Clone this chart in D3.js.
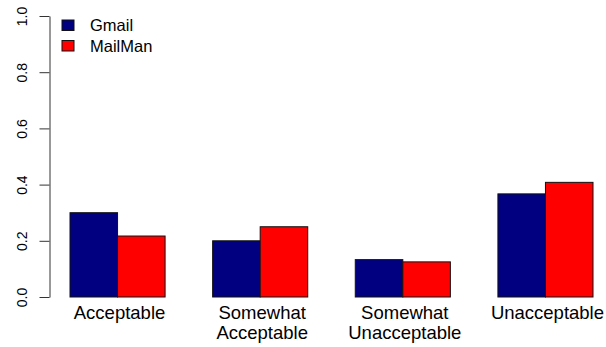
<!DOCTYPE html>
<html>
<head>
<meta charset="utf-8">
<script src="https://cdn.jsdelivr.net/npm/d3@7"></script>
<style>
  body { margin: 0; background: #fff; }
  text { font-family: "Liberation Sans", Arial, sans-serif; fill: #000; }
</style>
</head>
<body>
<svg id="chart"></svg>
<script>
// data
const categories = ['Acceptable', 'Somewhat\nAcceptable', 'Somewhat\nUnacceptable', 'Unacceptable'];
const seriesNames = ['Gmail', 'MailMan'];
const gmail = [0.300, 0.200, 0.133, 0.367];
const mailman = [0.217, 0.250, 0.125, 0.408];
const yTicks = [0, 0.2, 0.4, 0.6, 0.8, 1.0];
const colors = ['#000080', '#ff0000'];

const width = 606, height = 347;
const svg = d3.select('#chart').attr('width', width).attr('height', height);

// scales
const x0 = d3.scaleBand()
    .domain(categories)
    .range([70, 593])
    .paddingInner(1 / 3)
    .paddingOuter(0);

const x1 = d3.scaleBand()
    .domain(seriesNames)
    .range([0, x0.bandwidth()]);

const y = d3.scaleLinear()
    .domain([0, 1])
    .range([297, 16]);

const colorScale = d3.scaleOrdinal().domain(seriesNames).range(colors);

const rows = categories.map((c, i) => ({
  cat: c,
  vals: [{s: 'Gmail', v: gmail[i]}, {s: 'MailMan', v: mailman[i]}]
}));

// bars
const groups = svg.append('g').selectAll('g')
    .data(rows)
    .join('g')
    .attr('transform', d => `translate(${x0(d.cat)},0)`);

groups.selectAll('rect')
    .data(d => d.vals)
    .join('rect')
    .attr('x', d => x1(d.s))
    .attr('y', d => y(d.v))
    .attr('width', x1.bandwidth())
    .attr('height', d => y(0) - y(d.v))
    .attr('fill', d => colorScale(d.s))
    .attr('stroke', '#111')
    .attr('stroke-width', 1);

// y axis
const yAxis = d3.axisLeft(y)
    .tickValues(yTicks)
    .tickFormat(d3.format('.1f'))
    .tickSize(10)
    .tickSizeOuter(0);

const yAxisG = svg.append('g')
    .attr('transform', 'translate(49.5,0)')
    .call(yAxis);

yAxisG.select('.domain').attr('stroke', '#333');
yAxisG.selectAll('.tick line').attr('stroke', '#333');
yAxisG.selectAll('.tick text')
    .attr('transform', 'rotate(-90)')
    .attr('x', 0)
    .attr('y', -23)
    .attr('dy', 0)
    .style('text-anchor', 'middle')
    .style('font-size', '14px')
    .style('font-family', '"Liberation Sans", Arial, sans-serif')
    .style('fill', '#000');

// category labels (multi-line)
const labels = svg.append('g').selectAll('text')
    .data(categories)
    .join('text')
    .attr('x', d => x0(d) + x0.bandwidth() / 2 + 2)
    .attr('y', 319)
    .style('text-anchor', 'middle')
    .style('font-size', '18.5px');

labels.selectAll('tspan')
    .data(d => d.split('\n'))
    .join('tspan')
    .attr('x', function() { return this.parentNode.getAttribute('x'); })
    .attr('dy', (d, i) => i === 0 ? 0 : 20)
    .text(d => d);

// legend
const legend = svg.append('g').selectAll('g')
    .data(seriesNames)
    .join('g')
    .attr('transform', (d, i) => `translate(62,${20 + i * 20.5})`);

legend.append('rect')
    .attr('width', 12)
    .attr('height', 10.5)
    .attr('fill', d => colorScale(d))
    .attr('stroke', '#111')
    .attr('stroke-width', 1);

legend.append('text')
    .attr('x', 28)
    .attr('y', 5.5)
    .attr('dy', '0.35em')
    .style('font-size', '16.5px')
    .text(d => d);
</script>
</body>
</html>
